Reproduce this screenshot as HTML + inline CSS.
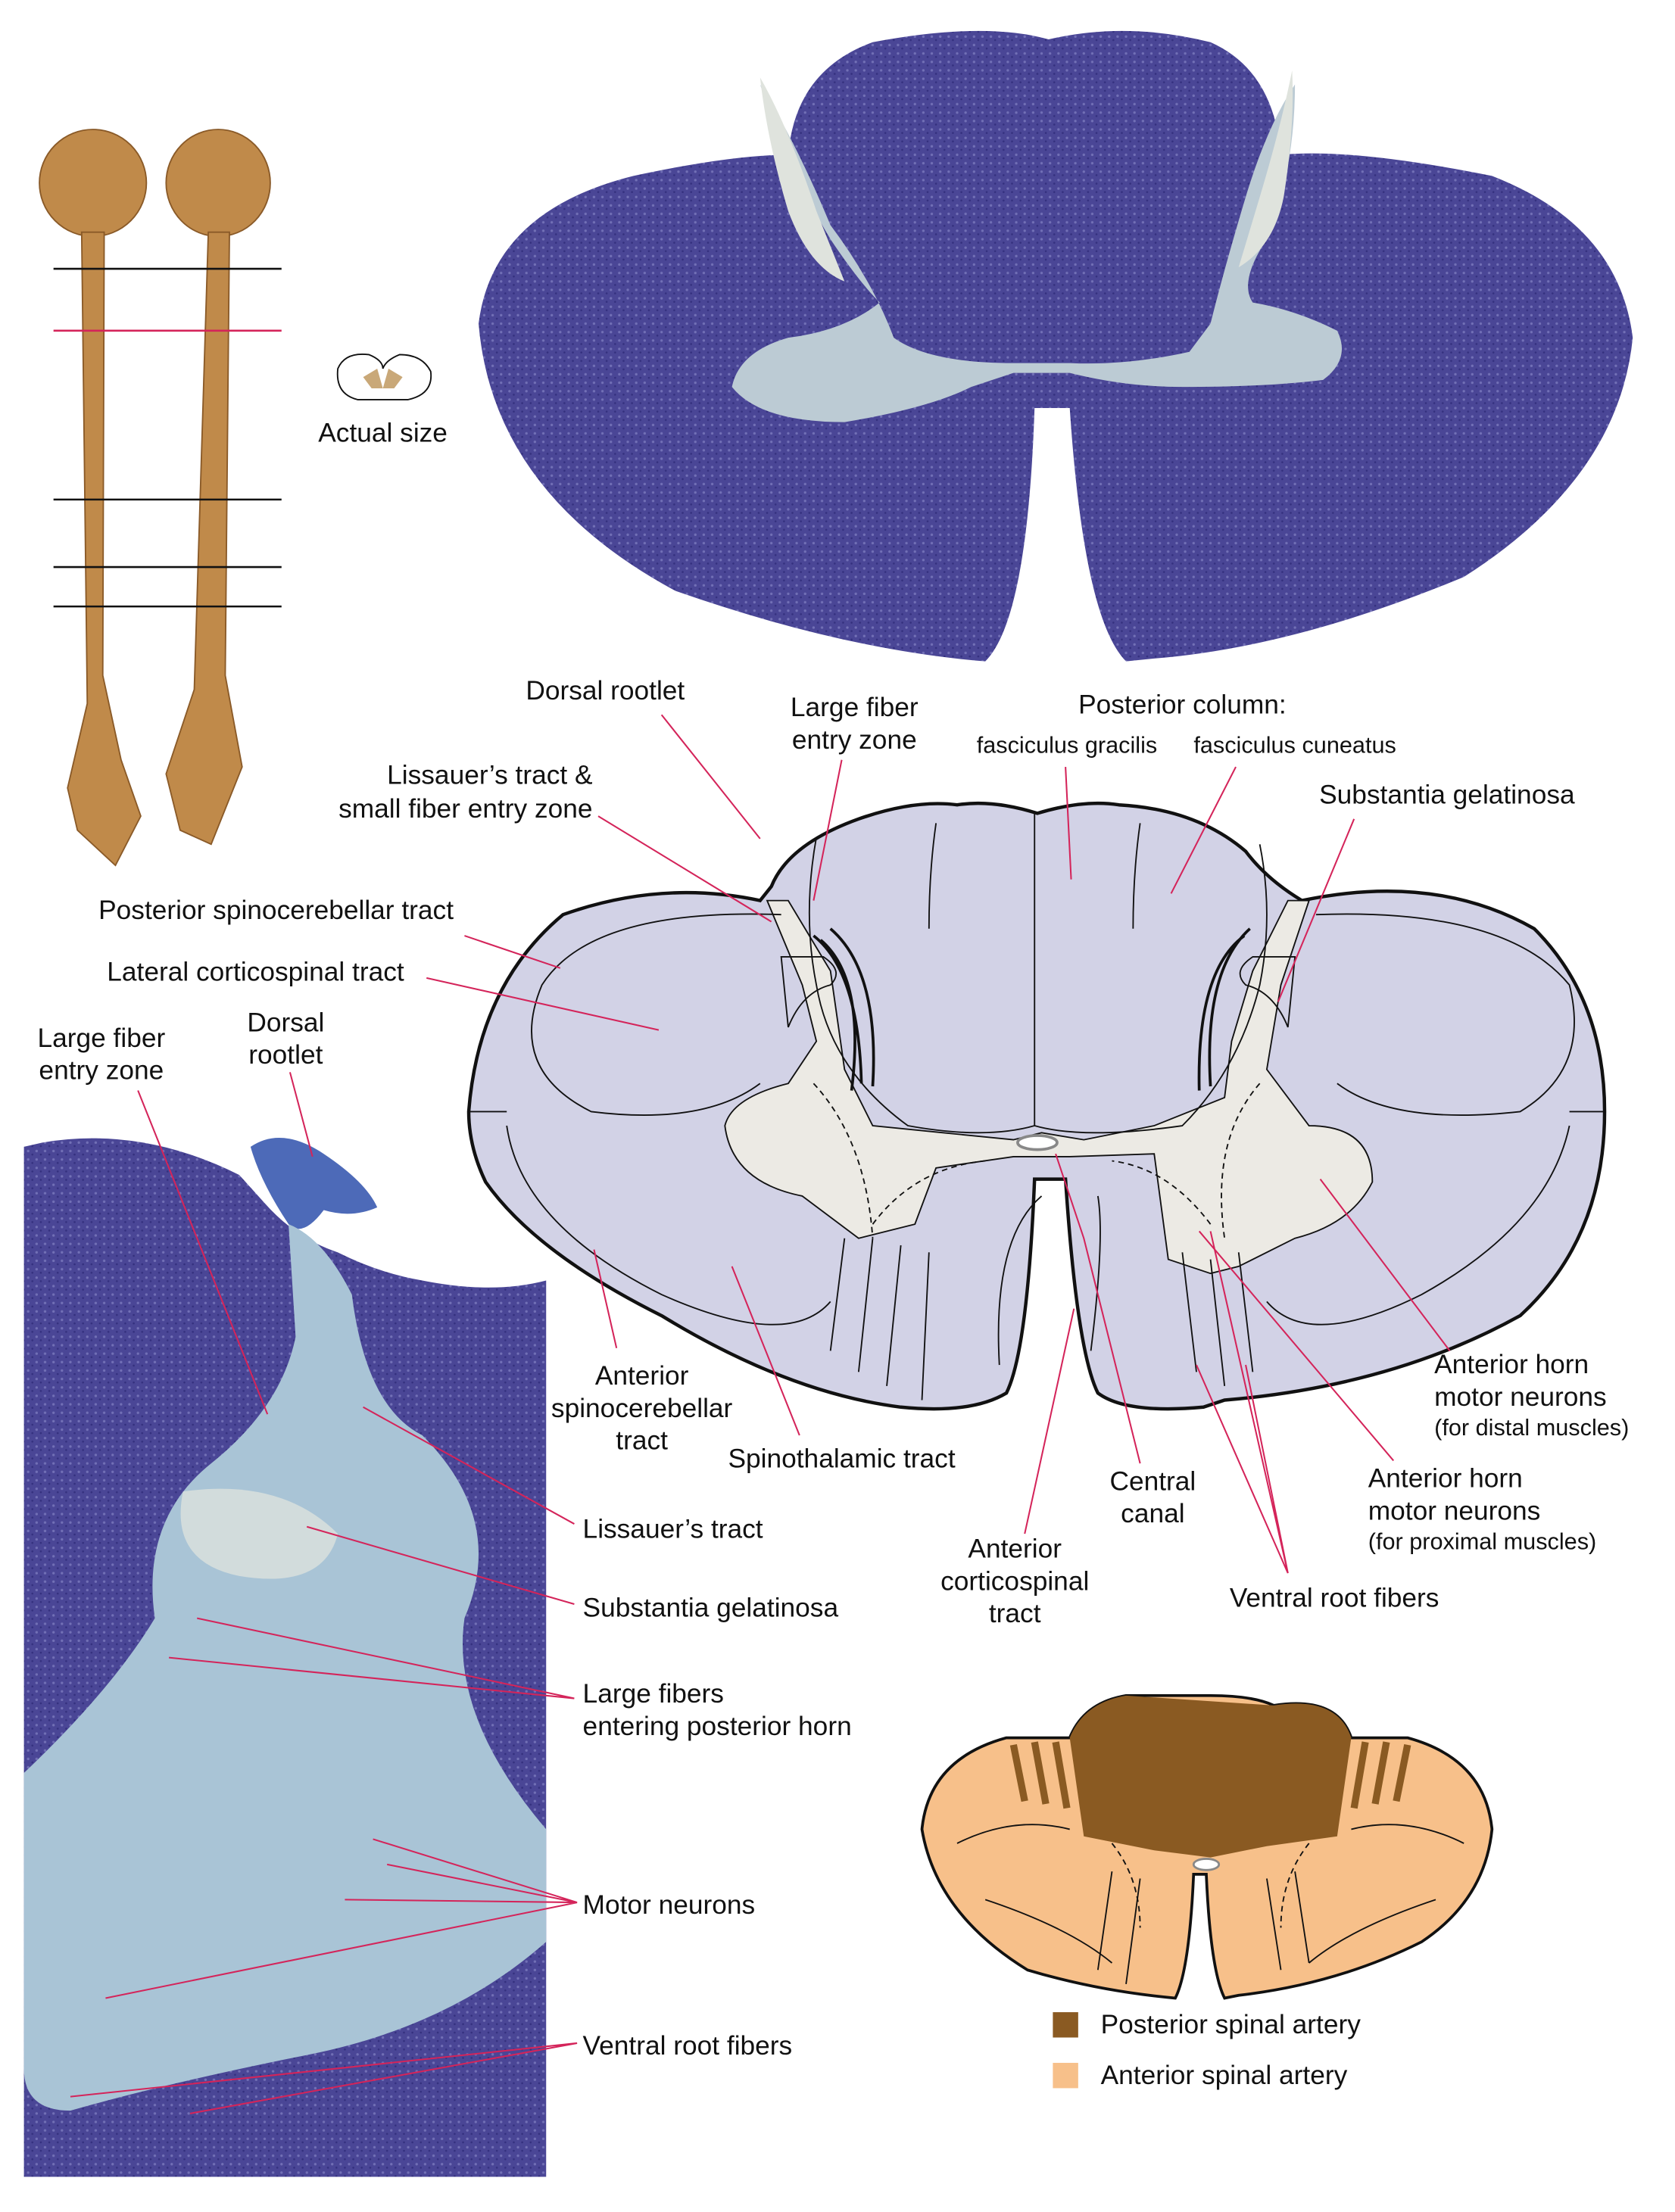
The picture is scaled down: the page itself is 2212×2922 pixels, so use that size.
<!DOCTYPE html>
<html><head><meta charset="utf-8"><style>
html,body{margin:0;padding:0;background:#fff}
svg{display:block}
text{font-family:"Liberation Sans",sans-serif;fill:#111;font-size:19px}
.s{font-size:16.5px}
.r{stroke:#d4245a;stroke-width:1.1;fill:none}
.k{stroke:#111;stroke-width:1;fill:none}
</style></head><body>
<svg width="2212" height="2922" viewBox="0 0 1190 1572" xmlns="http://www.w3.org/2000/svg">
<defs>
<pattern id="dots" width="6" height="6" patternUnits="userSpaceOnUse"><rect width="6" height="6" fill="#4a4696"/><circle cx="2" cy="2" r="0.9" fill="#7270b6"/><circle cx="5" cy="4.5" r="0.7" fill="#34307e"/></pattern>
</defs>
<!-- left spinal cords -->
<g fill="#c08a4a" stroke="#8a5a28" stroke-width="1">
<ellipse cx="66" cy="130" rx="38" ry="38"/><ellipse cx="155" cy="130" rx="37" ry="38"/>
<path d="M58 165 L74 165 L73 480 L86 540 L100 580 L82 615 L55 590 L48 560 L62 500 Z"/>
<path d="M148 165 L163 165 L160 480 L172 545 L150 600 L128 590 L118 550 L138 490 Z"/>
</g>
<g stroke="#111" stroke-width="1.4"><line x1="38" y1="191" x2="200" y2="191"/><line x1="38" y1="355" x2="200" y2="355"/><line x1="38" y1="403" x2="200" y2="403"/><line x1="38" y1="431" x2="200" y2="431"/></g>
<line x1="38" y1="235" x2="200" y2="235" stroke="#d4245a" stroke-width="1.4"/>
<path d="M240 262 Q245 250 262 252 Q272 256 272 262 Q274 256 284 252 Q300 252 306 264 Q308 280 290 284 L254 284 Q238 280 240 262Z" fill="#fff" stroke="#111"/>
<path d="M258 268 L268 262 L272 276 L276 262 L286 268 L280 276 L264 276Z" fill="#c9a878"/>
<text x="272" y="314" text-anchor="middle">Actual size</text>
<!-- top stained section -->
<path d="M340 230 Q350 150 450 125 Q520 110 560 110 Q565 50 620 30 Q700 15 745 28 Q800 15 860 30 Q905 50 910 110 Q960 105 1060 125 Q1150 160 1160 240 Q1150 340 1040 410 Q920 460 820 468 L800 470 Q770 440 760 290 L735 290 Q730 440 700 470 Q600 462 480 420 Q350 350 340 230Z" fill="url(#dots)"/>
<path d="M540 60 Q560 120 590 170 Q610 200 625 215 Q600 235 560 240 Q525 250 520 275 Q540 300 600 300 Q660 290 690 275 L720 265 L760 265 Q800 275 840 275 Q900 275 940 270 Q960 255 950 235 Q920 220 890 215 Q880 200 900 170 Q920 120 920 60 Q900 90 885 140 Q870 190 860 230 L845 250 Q800 260 760 258 L720 258 Q660 258 635 240 Q620 200 590 160 Q565 100 540 60Z" fill="#bccbd4"/>
<path d="M540 55 Q560 90 580 150 L600 200 Q575 190 560 150 Q545 100 540 55Z M918 50 Q910 90 895 140 L880 190 Q905 175 912 140 Q920 90 918 50Z" fill="#dfe3dd"/>
<!-- middle diagram -->
<path d="M333 790 Q340 700 400 650 Q470 625 540 640 L548 630 Q560 600 610 582 Q650 568 680 572 Q705 568 737 578 Q770 568 795 572 Q850 575 885 605 Q900 625 925 640 Q1020 620 1090 660 Q1140 710 1140 790 Q1140 880 1080 935 Q990 985 870 995 L855 1000 Q800 1005 780 990 Q765 960 757 838 L735 838 Q730 960 715 990 Q690 1005 640 1000 Q560 990 470 935 Q380 890 345 840 Q333 815 333 790Z" fill="#d2d2e6" stroke="#111" stroke-width="2.4"/>
<path d="M515 800 Q520 780 560 770 L580 740 L570 700 L545 640 L560 640 L590 690 L600 760 L620 800 L670 805 L720 810 L740 805 L770 810 L820 800 L870 780 L875 740 L890 690 L915 640 L930 640 L910 700 L900 760 L930 800 Q975 800 975 840 Q960 870 920 880 L880 900 L860 905 L830 895 L820 820 L760 822 L720 822 L665 830 L650 870 L610 880 L570 850 Q520 840 515 800Z" fill="#eceae4" stroke="#111" stroke-width="1"/>
<g class="k">
<path d="M580 595 Q570 650 580 700 Q590 760 645 800 Q700 810 735 800 L735 578"/>
<path d="M735 800 Q770 810 840 800 Q880 760 895 700 Q905 650 895 600"/>
<path d="M665 585 Q660 620 660 660 M810 585 Q805 620 805 660"/>
<path d="M555 650 Q420 645 385 700 Q360 760 420 790 Q500 800 540 770"/>
<path d="M935 650 Q1070 645 1115 700 Q1130 760 1080 790 Q990 800 950 770"/>
<path d="M360 790 L333 790 M1115 790 L1140 790"/>
<path d="M360 800 Q370 870 470 920 Q560 960 590 925"/>
<path d="M1115 800 Q1100 870 1010 920 Q930 960 900 925"/>
<path d="M600 880 L590 960 M620 880 L610 975 M640 885 L630 985 M660 890 L655 995 M740 850 Q705 880 710 970 M780 850 Q785 880 775 960"/>
<path d="M840 890 L850 975 M860 895 L870 985 M880 890 L890 975"/>
<path d="M555 680 L560 730 Q570 705 590 700 Q600 690 585 680Z M920 680 L915 730 Q905 705 885 700 Q875 690 890 680Z"/>
</g>
<g fill="none" stroke="#111" stroke-width="2"><path d="M578 665 Q610 690 612 770 M583 668 Q615 695 605 775 M590 660 Q625 690 620 772 M888 660 Q855 690 860 772 M884 665 Q850 690 852 775"/></g>
<g fill="none" stroke="#111" stroke-dasharray="4 3"><path d="M578 770 Q615 810 620 880 M895 770 Q860 810 870 880 M620 870 Q650 830 700 825 M860 870 Q830 830 790 825"/></g>
<ellipse cx="737" cy="812" rx="14" ry="5" fill="#fff" stroke="#888" stroke-width="2"/>
<!-- labels middle -->
<text x="430" y="497" text-anchor="middle">Dorsal rootlet</text>
<text x="607" y="509" text-anchor="middle">Large fiber</text><text x="607" y="532" text-anchor="middle">entry zone</text>
<text x="840" y="507" text-anchor="middle">Posterior column:</text>
<text x="758" y="535" text-anchor="middle" class="s">fasciculus gracilis</text>
<text x="920" y="535" text-anchor="middle" class="s">fasciculus cuneatus</text>
<text x="1028" y="571" text-anchor="middle">Substantia gelatinosa</text>
<text x="421" y="557" text-anchor="end">Lissauer’s tract &amp;</text>
<text x="421" y="581" text-anchor="end">small fiber entry zone</text>
<text x="70" y="653">Posterior spinocerebellar tract</text>
<text x="76" y="697">Lateral corticospinal tract</text>
<text x="456" y="984" text-anchor="middle">Anterior</text><text x="456" y="1007" text-anchor="middle">spinocerebellar</text><text x="456" y="1030" text-anchor="middle">tract</text>
<text x="598" y="1043" text-anchor="middle">Spinothalamic tract</text>
<text x="819" y="1059" text-anchor="middle">Central</text><text x="819" y="1082" text-anchor="middle">canal</text>
<text x="721" y="1107" text-anchor="middle">Anterior</text><text x="721" y="1130" text-anchor="middle">corticospinal</text><text x="721" y="1153" text-anchor="middle">tract</text>
<text x="1019" y="976">Anterior horn</text><text x="1019" y="999">motor neurons</text><text x="1019" y="1020" class="s">(for distal muscles)</text>
<text x="972" y="1057">Anterior horn</text><text x="972" y="1080">motor neurons</text><text x="972" y="1101" class="s">(for proximal muscles)</text>
<text x="948" y="1142" text-anchor="middle">Ventral root fibers</text>
<g class="r">
<path d="M470 508 L540 596"/><path d="M598 540 L578 640"/><path d="M757 545 L761 625"/><path d="M878 545 L832 635"/><path d="M962 582 L908 712"/>
<path d="M425 580 L548 655"/><path d="M330 665 L398 688"/><path d="M303 695 L468 732"/>
<path d="M438 958 L422 888"/><path d="M568 1020 L520 900"/><path d="M810 1040 L770 880 L750 820"/><path d="M728 1090 L763 930"/>
<path d="M1030 960 L938 838"/><path d="M990 1038 L852 875"/>
<path d="M915 1118 L850 970 M915 1118 L885 970 M915 1118 L860 875"/>
</g>
<!-- bottom left histology -->
<path d="M17 815 L30 812 Q100 800 170 835 L188 855 Q210 880 240 890 Q270 905 300 910 Q350 920 388 910 L388 1547 L17 1547Z" fill="url(#dots)"/>
<path d="M178 815 Q200 800 230 820 Q260 840 268 858 Q250 866 230 860 Q215 880 205 870 Q185 840 178 815Z" fill="#4d6ab8"/>
<path d="M205 870 Q230 880 250 920 Q260 1000 300 1020 Q360 1080 330 1150 Q320 1220 388 1300 L388 1380 Q320 1440 220 1460 Q120 1480 50 1500 Q17 1500 17 1470 L17 1260 Q80 1200 110 1150 Q100 1080 150 1040 Q200 1000 210 950Z" fill="#a9c4d6"/>
<path d="M130 1060 Q200 1050 240 1090 Q230 1130 170 1120 Q120 1110 130 1060Z" fill="#d2dcdc"/>
<text x="72" y="744" text-anchor="middle">Large fiber</text><text x="72" y="767" text-anchor="middle">entry zone</text>
<text x="203" y="733" text-anchor="middle">Dorsal</text><text x="203" y="756" text-anchor="middle">rootlet</text>
<text x="414" y="1093">Lissauer’s tract</text>
<text x="414" y="1149">Substantia gelatinosa</text>
<text x="414" y="1210">Large fibers</text><text x="414" y="1233">entering posterior horn</text>
<text x="414" y="1360">Motor neurons</text>
<text x="414" y="1460">Ventral root fibers</text>
<g class="r">
<path d="M98 775 L190 1005"/><path d="M206 762 L222 822"/>
<path d="M408 1083 L258 1000"/><path d="M408 1140 L218 1085"/>
<path d="M408 1207 L140 1150 M408 1207 L120 1178"/>
<path d="M410 1352 L265 1307 M410 1352 L275 1325 M410 1352 L245 1350 M410 1352 L75 1420"/>
<path d="M410 1452 L50 1490 M410 1452 L135 1502"/>
</g>
<!-- bottom right colored -->
<path d="M655 1300 Q660 1250 715 1235 L760 1235 Q770 1210 800 1205 L860 1205 Q890 1205 905 1212 Q950 1205 960 1235 L1000 1235 Q1055 1250 1060 1300 Q1055 1350 1010 1380 Q950 1410 880 1418 L870 1420 Q860 1400 857 1332 L848 1332 Q845 1400 835 1420 Q780 1415 730 1400 Q665 1360 655 1300Z" fill="#f7c08a" stroke="#111" stroke-width="2"/>
<path d="M760 1235 Q770 1210 800 1205 L905 1212 Q950 1205 960 1235 L950 1305 L900 1312 L860 1320 L820 1315 L770 1305Z" fill="#8a5a22"/>
<g stroke="#8a5a22" stroke-width="5"><path d="M720 1240 L728 1280 M735 1238 L743 1282 M750 1238 L758 1285 M1000 1240 L992 1280 M985 1238 L977 1282 M970 1238 L962 1285"/></g>
<g class="k"><path d="M680 1310 Q720 1290 760 1300 M1040 1310 Q1000 1290 960 1300 M700 1350 Q760 1370 790 1395 M1020 1350 Q960 1370 930 1395 M790 1330 L780 1400 M810 1335 L800 1410 M900 1335 L910 1400 M920 1330 L930 1395"/></g>
<g fill="none" stroke="#111" stroke-dasharray="4 3"><path d="M790 1310 Q810 1335 810 1370 M930 1310 Q910 1335 910 1370"/></g>
<ellipse cx="857" cy="1325" rx="9" ry="4" fill="#fff" stroke="#888" stroke-width="1.5"/>
<rect x="748" y="1430" width="18" height="18" fill="#8a5a22"/>
<rect x="748" y="1466" width="18" height="18" fill="#f7c08a"/>
<text x="782" y="1445">Posterior spinal artery</text>
<text x="782" y="1481">Anterior spinal artery</text>
</svg>
</body></html>
